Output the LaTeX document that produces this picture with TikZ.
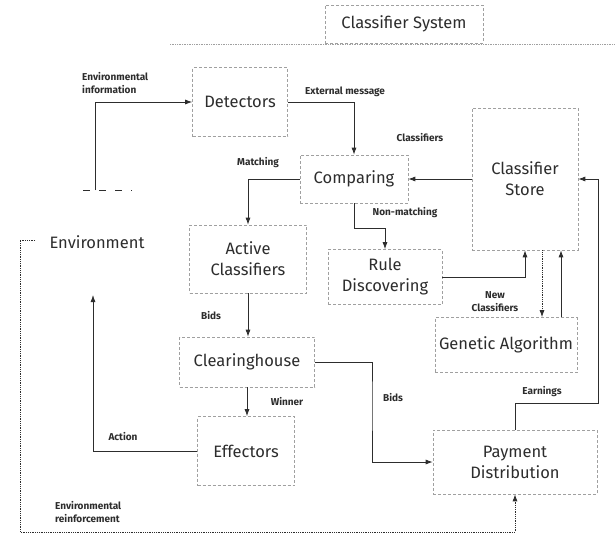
\documentclass[tikz,border=0pt]{standalone}
\usepackage{fontspec}
\setmainfont{Fira Sans}
\usetikzlibrary{arrows.meta, positioning}
\definecolor{InkColor}{RGB}{45,45,45}
\definecolor{EdgeColor}{RGB}{160,160,160}
\tikzstyle{block} = [draw=EdgeColor, densely dashed, line width=0.6pt, text=InkColor, align=center, inner sep=0pt, font=\fontsize{16.5}{21}\selectfont]
\tikzstyle{arrow} = [InkColor, line width=0.8pt, -{Latex[length=7pt,width=5pt]}]
\tikzstyle{lbl} = [text=InkColor, inner sep=0pt, font=\bfseries\fontsize{10}{13}\selectfont]

\begin{document}
\begin{tikzpicture}[x=1pt, y=-1pt]
\useasboundingbox[fill=white] (0,0) rectangle (615,546);

% boxes
\node[block, minimum width=158pt, minimum height=38pt] (sys) at (404,24) {Classifier System};
\node[block, minimum width=95pt, minimum height=69pt] (det) at (240,102) {Detectors};
\node[block, minimum width=108pt, minimum height=48pt] (cmp) at (354,179) {Comparing};
\node[block, minimum width=106pt, minimum height=142pt] (store) at (525,179) {Classifier\\Store};
\node[block, minimum width=117pt, minimum height=68pt] (act) at (248,259) {Active\\Classifiers};
\node[block, minimum width=114pt, minimum height=55pt] (rule) at (385,277) {Rule\\Discovering};
\node[block, minimum width=142pt, minimum height=55pt] (ga) at (506,345) {Genetic Algorithm};
\node[block, minimum width=135pt, minimum height=50pt] (clr) at (247,362) {Clearinghouse};
\node[block, minimum width=97pt, minimum height=69pt] (eff) at (246,451) {Effectors};
\node[block, minimum width=164pt, minimum height=64pt] (pay) at (515,462) {Payment\\Distribution};
\node[text=InkColor, inner sep=0pt, font=\fontsize{16.5}{21}\selectfont] (env) at (97,242) {Environment};

% system boundary
\coordinate (bndL) at (170,44);
\coordinate (bndR) at (615,44);
\draw[EdgeColor, densely dotted, line width=0.7pt] (bndL) -- (bndR);

% turning points
\coordinate (envA) at (95,190);
\coordinate (dashL) at (83,190);
\coordinate (dashR) at (132,190);
\coordinate (actEnd) at (93,295);
\coordinate (bidTurn) at (372,400);
\coordinate (earnR) at (598,403);
\coordinate (envB) at (35,240);
\coordinate (envC) at (20,532);

% connectors
\draw[InkColor, line width=0.8pt, dash pattern=on 7pt off 9pt] (dashL) -- (dashR);
\draw[arrow] (envA) |- (det.west);
\draw[arrow] (det.east) -| (cmp.north);
\draw[arrow] (store.west) -- (cmp.east);
\draw[arrow] (cmp.west) -| (act.north);
\draw[arrow] (cmp.south) -- ++(0,25) -| (rule.north);
\draw[arrow] (act.south) -- (act.south |- clr.north);
\draw[arrow] (clr.south) -- (clr.south |- eff.north);
\draw[arrow] (eff.west) -| (actEnd);
\draw[arrow] (rule.east) -| (store.south);
\draw[arrow, densely dotted] ([xshift=17pt]store.south) -- ([xshift=17pt]store.south |- ga.north);
\draw[arrow] ([xshift=36pt]store.south |- ga.north) -- ([xshift=36pt]store.south);
\draw[arrow] (clr.east) -| (bidTurn) |- (pay.west);
\draw[arrow] (pay.north) |- (earnR) |- (store.east);
\draw[arrow, densely dotted] (envB) -| (envC) -| (pay.south);

% labels
\node[lbl, anchor=west, align=left] (lblEnvInfo) at (82,83) {Environmental\\information};
\node[lbl, anchor=west] (lblExt) at (305,92) {External message};
\node[lbl] (lblCls) at (420,138) {Classifiers};
\node[lbl] (lblMatch) at (258,163) {Matching};
\node[lbl] (lblNon) at (405,213) {Non-matching};
\node[lbl] (lblBids) at (211,316) {Bids};
\node[lbl, align=center] (lblNew) at (495,302) {New\\Classifiers};
\node[lbl] (lblWin) at (287,402) {Winner};
\node[lbl] (lblBidsTwo) at (393,398) {Bids};
\node[lbl] (lblEarn) at (542,392) {Earnings};
\node[lbl] (lblAct) at (123,437) {Action};
\node[lbl, anchor=west, align=left] (lblEnvRe) at (55,512) {Environmental\\reinforcement};
\end{tikzpicture}
\end{document}
